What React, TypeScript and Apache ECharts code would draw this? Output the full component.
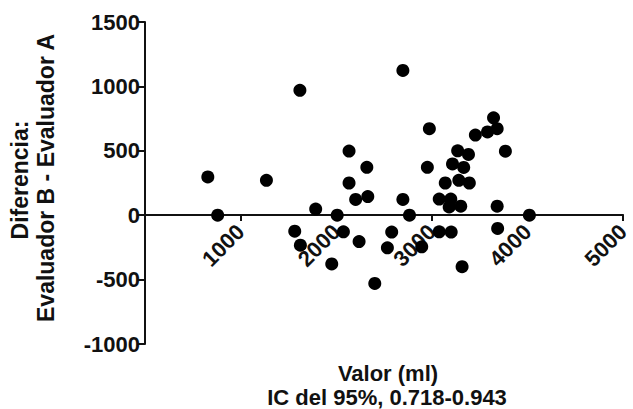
import React, { useEffect, useRef } from "react";
import * as echarts from "echarts";

const xValues = [657, 760, 1270, 1566, 1625, 1620, 1785, 1953, 2010, 2075, 2134, 2134, 2203, 2239, 2330, 2320, 2403, 2535, 2580, 2697, 2697, 2766, 2894, 2953, 2974, 3077, 3077, 3140, 3181, 3198, 3202, 3216, 3270, 3282, 3302, 3316, 3333, 3383, 3392, 3455, 3582, 3645, 3683, 3683, 3688, 3769, 4020];
const yValues = [297, 0, 271, -124, -233, 970, 48, -378, 0, -129, 498, 250, 122, -205, 145, 372, -530, -253, -131, 1124, 122, 0, -245, 372, 672, 125, -129, 250, 64, 125, -131, 398, 500, 271, 70, -400, 371, 472, 250, 622, 646, 756, 672, 70, -103, 497, 0];

const yTitleLines = ["Diferencia:", "Evaluador B - Evaluador A"];
const xTitleLines = ["Valor (ml)", "IC del 95%, 0.718-0.943"];

const FONT = "'Liberation Sans', Arial, sans-serif";
const INK = "#111";

export default function App() {
  const ref = useRef<HTMLDivElement>(null);
  useEffect(() => {
    if (!ref.current) return;
    const chart = echarts.init(ref.current, undefined, { renderer: "svg" });
    const data = xValues.map((x, i) => [x, yValues[i]]);
    chart.setOption({
      animation: false,
      backgroundColor: "#fff",
      grid: { left: 145, right: 6, top: 22, bottom: 65, containLabel: false },
      xAxis: {
        type: "value",
        position: "bottom",
        offset: -129,
        min: 0,
        max: 5000,
        interval: 1000,
        splitLine: { show: false },
        axisLine: { show: true, onZero: false, lineStyle: { color: INK, width: 2 } },
        axisTick: { show: true, length: 6, lineStyle: { color: INK, width: 2 } },
        axisLabel: {
          rotate: 45,
          margin: 13,
          color: INK,
          fontFamily: FONT,
          fontWeight: "bold",
          fontSize: 22,
          formatter: (v: number) => (v === 0 ? "" : String(v)),
        },
      },
      yAxis: {
        type: "value",
        min: -1000,
        max: 1500,
        interval: 500,
        splitLine: { show: false },
        axisLine: { show: true, onZero: false, lineStyle: { color: INK, width: 2 } },
        axisTick: { show: true, length: 8, lineStyle: { color: INK, width: 2 } },
        axisLabel: {
          margin: 5,
          color: INK,
          fontFamily: FONT,
          fontWeight: "bold",
          fontSize: 22,
          formatter: (v: number) => String(v),
        },
      },
      series: [
        {
          type: "scatter",
          data,
          symbol: "circle",
          symbolSize: 13,
          itemStyle: { color: "#000", opacity: 1 },
        },
      ],
      graphic: [
        {
          type: "text",
          x: 20,
          y: 180,
          rotation: Math.PI / 2,
          style: { text: yTitleLines[0], fill: INK, font: `bold 23px ${FONT}`, align: "center", verticalAlign: "middle" },
        },
        {
          type: "text",
          x: 46,
          y: 178,
          rotation: Math.PI / 2,
          style: { text: yTitleLines[1], fill: INK, font: `bold 23px ${FONT}`, align: "center", verticalAlign: "middle" },
        },
        {
          type: "text",
          x: 388,
          y: 373,
          style: { text: xTitleLines[0], fill: INK, font: `bold 22px ${FONT}`, align: "center", verticalAlign: "middle" },
        },
        {
          type: "text",
          x: 387,
          y: 397,
          style: { text: xTitleLines[1], fill: INK, font: `bold 22px ${FONT}`, align: "center", verticalAlign: "middle" },
        },
      ],
    });
    return () => chart.dispose();
  }, []);
  return <div ref={ref} style={{ position: "fixed", left: 0, top: 0, width: 633, height: 409 }} />;
}
